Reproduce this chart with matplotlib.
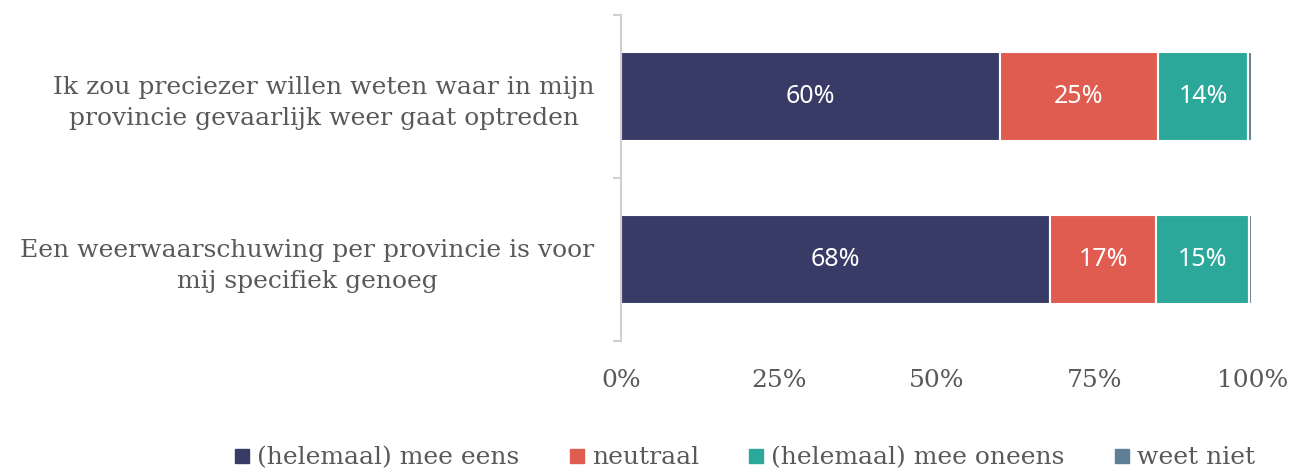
import numpy as np
import matplotlib.pyplot as plt
from matplotlib.lines import Line2D

statements = [
    "Ik zou preciezer willen weten waar in mijn\nprovincie gevaarlijk weer gaat optreden",
    "Een weerwaarschuwing per provincie is voor\nmij specifiek genoeg",
]
series = ["(helemaal) mee eens", "neutraal", "(helemaal) mee oneens", "weet niet"]
eens = [60.1, 68.0]
neutraal = [24.9, 16.8]
oneens = [14.4, 14.7]
weet_niet = [0.6, 0.5]
colors = ["#383b66", "#e05c50", "#2ba89a", "#5f7f96"]
ticks = [0, 25, 50, 75, 100]

txt = "#595959"
serif = ["DejaVu Serif"]

fig = plt.figure(figsize=(12.91, 4.73), dpi=100)
ax = fig.add_axes([0.481, 0.279, 0.489, 0.689])

y = np.arange(len(statements))
left = np.zeros(len(statements))
for vals, col in zip([eens, neutraal, oneens, weet_niet], colors):
    vals = np.array(vals)
    bars = ax.barh(y, vals, left=left, height=0.55, color=col,
                   edgecolor="white", linewidth=1.5)
    labels = ["%.0f%%" % v if v >= 5 else "" for v in vals]
    ax.bar_label(bars, labels=labels, label_type="center", color="white",
                 fontsize=18, family="Noto Sans")
    left += vals

ax.set_ylim(1.5, -0.5)
ax.set_xlim(0, 100)
ax.set_yticks(y)
ax.set_yticklabels(statements, family=serif, fontsize=18, color=txt,
                   ha="right", multialignment="center", linespacing=1.45)
ax.tick_params(axis="y", length=0, pad=19)
ax.set_yticks([-0.5, 0.5, 1.5], minor=True)
ax.tick_params(axis="y", which="minor", length=6, width=1.5, color="#d0d0d0")
ax.set_xticks(ticks)
ax.set_xticklabels(["%d%%" % t for t in ticks], family=serif, fontsize=18, color=txt)
ax.tick_params(axis="x", length=0, pad=20)

for s in ["top", "right", "bottom"]:
    ax.spines[s].set_visible(False)
ax.spines["left"].set_color("#d0d0d0")
ax.spines["left"].set_linewidth(1.5)

handles = [Line2D([], [], marker="s", linestyle="", markersize=10, color=c) for c in colors]
fig.legend(handles, series, loc="center", bbox_to_anchor=(0.576, 0.032), ncol=4,
           frameon=False, handletextpad=0.2, columnspacing=1.9, handlelength=0.8,
           prop={"family": serif, "size": 18}, labelcolor=txt)

fig.savefig("out.png", dpi=100)
